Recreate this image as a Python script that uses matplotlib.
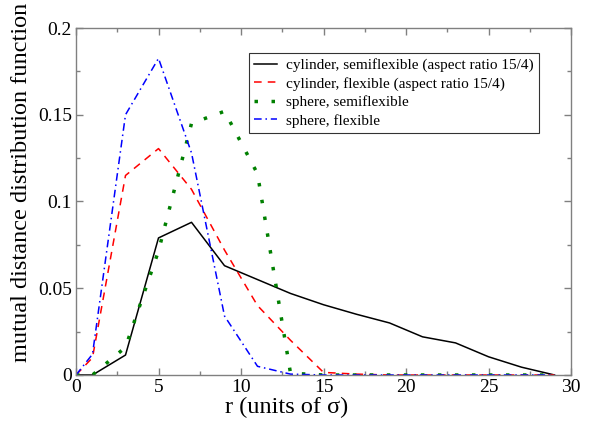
import numpy as np
import matplotlib
matplotlib.use("Agg")
import matplotlib.pyplot as plt
from matplotlib.ticker import MultipleLocator

plt.rcParams['font.family'] = ['Liberation Serif', 'DejaVu Serif']

# sample positions (units of sigma)
r = [0, 1, 3, 5, 7, 9, 11, 13, 15, 17, 19, 21, 23, 25, 27, 29]

cyl_semi = [0, 0, 0.0115, 0.079, 0.088, 0.063, 0.055, 0.047, 0.0405, 0.035,
            0.030, 0.022, 0.0185, 0.0105, 0.0045, 0.0]
cyl_flex = [0, 0.010, 0.115, 0.1305, 0.107, 0.072, 0.040, 0.020, 0.0015, 0.0005,
            0, 0, 0, 0, 0, 0]
sph_semi = [0, 0, 0.016, 0.0715, 0.145, 0.152, 0.116, 0.001, 0, 0,
            0, 0, 0, 0, 0, 0]
sph_flex = [0, 0.012, 0.150, 0.1825, 0.128, 0.034, 0.005, 0.0005, 0, 0,
            0, 0, 0, 0, 0, 0]

labels = ['cylinder, semiflexible (aspect ratio 15/4)',
          'cylinder, flexible (aspect ratio 15/4)',
          'sphere, semiflexible',
          'sphere, flexible']

fig = plt.figure(figsize=(5.91, 4.23), dpi=100)
ax = fig.add_axes([0.1286, 0.1135, 0.8376, 0.8203])

ax.plot(r, cyl_semi, color='black', lw=1.1, label=labels[0])
ax.plot(r, cyl_flex, color='red', lw=1.1, linestyle=(0, (5, 4)), label=labels[1])
ax.plot(r, sph_semi, color='green', lw=2.5, linestyle=(0, (1, 3.9)),
        dash_capstyle='butt', label=labels[2])
ax.plot(r, sph_flex, color='blue', lw=1.1, linestyle=(0, (5, 2.5, 1, 2.5)),
        label=labels[3])

ax.set_xlim(0, 30)
ax.set_ylim(0, 0.2)
ax.xaxis.set_minor_locator(MultipleLocator(2.5))
ax.yaxis.set_minor_locator(MultipleLocator(0.025))
ax.set_xticks([0, 5, 10, 15, 20, 25, 30])
ax.set_xticklabels(['0', '5', '10', '15', '20', '25', '30'])
ax.set_yticks([0, 0.05, 0.1, 0.15, 0.2])
ax.set_yticklabels(['0', '0.05', '0.1', '0.15', '0.2'])

for s in ax.spines.values():
    s.set_color('#808080')
    s.set_linewidth(1.0)
ax.tick_params(which='both', direction='in', top=True, right=True,
               color='#808080', labelsize=14)
ax.tick_params(axis='x', pad=3)
ax.tick_params(axis='y', pad=3)
ax.tick_params(which='major', length=5, width=1.0)
ax.tick_params(which='minor', length=3, width=1.0)

ax.set_xlabel('r (units of σ)', fontsize=17.5)
ax.set_ylabel('mutual distance distribution function', fontsize=17.5)
ax.xaxis.set_label_coords(0.426, -0.062)
ax.yaxis.set_label_coords(-0.088, 0.556)

leg = ax.legend(loc='upper left', bbox_to_anchor=(0.3495, 0.928), fontsize=11,
                frameon=True, fancybox=False, handlelength=1.5, handletextpad=0.6,
                borderpad=0.35, labelspacing=0.3, borderaxespad=0)
leg.get_frame().set_edgecolor('black')
leg.get_frame().set_linewidth(0.8)

fig.savefig('out.png', dpi=100)
